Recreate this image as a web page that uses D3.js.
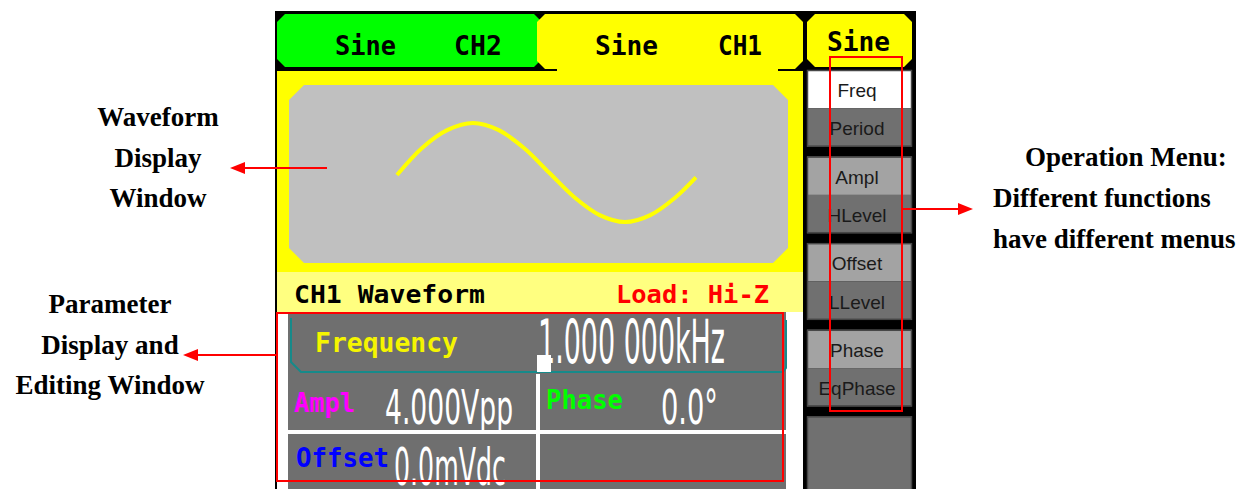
<!DOCTYPE html>
<html>
<head>
<meta charset="utf-8">
<script src="https://cdn.jsdelivr.net/npm/d3@7"></script>
<style>
  body { margin: 0; background: #fff; }
</style>
</head>
<body>
<div id="panel"></div>
<script>
  var width = 1259, height = 489;

  // labels on the generator screen
  var waveName = "Sine";
  var channels = ["CH2", "CH1"];
  var menuTop = ["Freq", "Ampl", "Offset", "Phase", ""];
  var menuBottom = ["Period", "HLevel", "LLevel", "EqPhase", ""];
  var statusLeft = "CH1 Waveform";
  var statusRight = "Load: Hi-Z";
  var paramNames = ["Frequency", "Ampl", "Phase", "Offset"];
  var paramValues = ["1.000 000kHz", "4.000Vpp", "0.0°", "0.0mVdc"];

  // sine trace (phase in degrees, level -1..1)
  var wavePhase = [0, 30, 60, 90, 120, 150, 180, 210, 240, 270, 300, 330, 354];
  var waveLevel = [-0.05, 0.5, 0.86, 1, 0.86, 0.5, 0, -0.5, -0.86, -1, -0.86, -0.5, -0.1];

  // call-out texts
  var noteWave = ["Waveform", "Display", "Window"];
  var noteParam = ["Parameter", "Display and", "Editing Window"];
  var noteMenu = ["Operation Menu:", "Different functions", "have different menus"];

  var mono = "'DejaVu Sans Mono', monospace";
  var serif = "'Liberation Serif', 'Times New Roman', serif";

  var svg = d3.select("#panel")
    .append("svg")
    .attr("width", width)
    .attr("height", height)
    .style("display", "block")
    .style("background-color", "white");

  // polygon with cut corners
  function chamfer(x0, y0, x1, y1, c) {
    return [[x0 + c, y0], [x1 - c, y0], [x1, y0 + c], [x1, y1 - c],
            [x1 - c, y1], [x0 + c, y1], [x0, y1 - c], [x0, y0 + c]].join(" ");
  }

  function label(x, y, txt, size, fill, len, opts) {
    opts = opts || {};
    var t = svg.append("text")
      .attr("x", x)
      .attr("y", y)
      .attr("font-family", opts.family || mono)
      .attr("font-size", size)
      .attr("font-weight", opts.weight || "bold")
      .attr("fill", fill)
      .attr("text-anchor", opts.anchor || "start")
      .text(txt);
    if (len) t.attr("textLength", len).attr("lengthAdjust", "spacingAndGlyphs");
    return t;
  }

  // screen frame
  svg.append("rect").attr("x", 275).attr("y", 11).attr("width", 641).attr("height", 478).attr("fill", "#000");

  // channel tabs
  svg.append("polygon").attr("points", chamfer(277, 14, 542, 67, 8)).attr("fill", "#00ff00");
  svg.append("polygon").attr("points", chamfer(537, 14, 803, 69, 8)).attr("fill", "#ffff00");
  svg.append("rect").attr("x", 557).attr("y", 60).attr("width", 221).attr("height", 14).attr("fill", "#ffff00");
  svg.append("rect").attr("x", 277).attr("y", 71).attr("width", 526).attr("height", 201).attr("fill", "#ffff00");
  svg.append("polygon").attr("points", chamfer(807, 14, 912, 67, 8)).attr("fill", "#ffff00");

  label(335, 55, waveName, 26, "#000", 61);
  label(454, 55, channels[0], 26, "#000", 48);
  label(595, 55, waveName, 26, "#000", 63);
  label(718, 55, channels[1], 26, "#000", 44);
  label(827, 51, waveName, 26, "#000", 63);

  // waveform window
  svg.append("polygon").attr("points", chamfer(289, 85, 788, 263, 15)).attr("fill", "#c0c0c0");

  var xScale = d3.scaleLinear().domain([0, 360]).range([397, 701]);
  var yScale = d3.scaleLinear().domain([-1, 1]).range([222, 123]);
  var wave = d3.line()
    .x(function(d, i) { return xScale(wavePhase[i]); })
    .y(function(d) { return yScale(d); })
    .curve(d3.curveCatmullRom);
  svg.append("path")
    .datum(waveLevel)
    .attr("d", wave)
    .attr("fill", "none")
    .attr("stroke", "#ffff00")
    .attr("stroke-width", 4);

  // status bar
  svg.append("rect").attr("x", 277).attr("y", 272).attr("width", 526).attr("height", 40).attr("fill", "#ffff80");
  label(294, 303, statusLeft, 25, "#000", 191);
  label(616, 303, statusRight, 25, "#ff0000", 153);

  // parameter area
  svg.append("rect").attr("x", 277).attr("y", 312).attr("width", 526).attr("height", 177).attr("fill", "#fff");
  var gray = "#6f6f6f";
  svg.append("rect").attr("x", 288).attr("y", 312).attr("width", 498).attr("height", 62).attr("fill", gray);
  svg.append("rect").attr("x", 288).attr("y", 374).attr("width", 248).attr("height", 56).attr("fill", gray);
  svg.append("rect").attr("x", 540).attr("y", 374).attr("width", 246).attr("height", 56).attr("fill", gray);
  svg.append("rect").attr("x", 288).attr("y", 434).attr("width", 248).attr("height", 60).attr("fill", gray);
  svg.append("rect").attr("x", 540).attr("y", 434).attr("width", 246).attr("height", 60).attr("fill", gray);
  svg.append("path")
    .attr("d", "M291,318 L291,362 L301,372 L783,372 L786,368 L786,320")
    .attr("fill", "none")
    .attr("stroke", "#168a8a")
    .attr("stroke-width", 2);
  svg.append("rect").attr("x", 537).attr("y", 355).attr("width", 14).attr("height", 17).attr("fill", "#fff");

  label(315, 352, paramNames[0], 26, "#f5f500", 143);
  label(294, 412, paramNames[1], 26, "#ff00ff", 61);
  label(546, 409, paramNames[2], 26, "#00ff00", 77);
  label(296, 467, paramNames[3], 26, "#0000ff", 93);

  var big = { family: "'DejaVu Sans', sans-serif", weight: "normal" };
  label(538, 363, paramValues[0], 60, "#fff", 187, big);
  label(385, 424, paramValues[1], 48, "#fff", 128, big);
  label(661, 424, paramValues[2], 48, "#fff", 57, big);
  label(394, 485, paramValues[3], 52, "#fff", 112, big);

  // operation menu
  var yMenu = d3.scaleBand().domain(d3.range(menuTop.length)).range([70, 493]).paddingInner(0.115);
  var half = yMenu.bandwidth() / 2;
  var menu = svg.selectAll(".menu").data(menuTop).enter().append("g").attr("class", "menu");
  menu.append("rect")
    .attr("x", 807).attr("y", function(d, i) { return yMenu(i); })
    .attr("width", 105).attr("height", function(d) { return d == "" ? half * 2 : half; })
    .attr("fill", function(d, i) { return i == 0 ? "#fff" : (d == "" ? "#707070" : "#a3a3a3"); });
  menu.filter(function(d) { return d != ""; }).append("rect")
    .attr("x", 807).attr("y", function(d, i) { return yMenu(i) + half; })
    .attr("width", 105).attr("height", half)
    .attr("fill", "#707070");
  menu.append("rect")
    .attr("x", 807.5).attr("y", function(d, i) { return yMenu(i) + 0.5; })
    .attr("width", 104).attr("height", yMenu.bandwidth() - 1)
    .attr("fill", "none").attr("stroke", "#474747").attr("stroke-width", 1.5);
  menu.append("text")
    .attr("x", 857).attr("y", function(d, i) { return yMenu(i) + half / 2 + 8; })
    .attr("text-anchor", "middle")
    .attr("font-family", "'Liberation Sans', Arial, sans-serif")
    .attr("font-size", 19).attr("fill", "#1a1a1a")
    .text(function(d) { return d; });
  menu.append("text")
    .attr("x", 857).attr("y", function(d, i) { return yMenu(i) + half * 1.5 + 8; })
    .attr("text-anchor", "middle")
    .attr("font-family", "'Liberation Sans', Arial, sans-serif")
    .attr("font-size", 19).attr("fill", "#1a1a1a")
    .text(function(d, i) { return menuBottom[i]; });

  // red call-out boxes and arrows
  var red = "#ff0000";
  svg.append("rect").attr("x", 830).attr("y", 57).attr("width", 72).attr("height", 354)
    .attr("fill", "none").attr("stroke", red).attr("stroke-width", 2);
  svg.append("rect").attr("x", 277).attr("y", 313).attr("width", 506).attr("height", 168)
    .attr("fill", "none").attr("stroke", red).attr("stroke-width", 2);

  function arrow(x0, x1, y, dir) {
    var base = x1 - dir * 15;
    svg.append("line").attr("x1", x0).attr("x2", base).attr("y1", y).attr("y2", y)
      .attr("stroke", red).attr("stroke-width", 2);
    svg.append("polygon")
      .attr("points", [[x1, y], [base, y - 6], [base, y + 6]].join(" "))
      .attr("fill", red);
  }
  arrow(327, 230, 168, -1);
  arrow(277, 183, 355, -1);
  arrow(902, 973, 209, 1);

  // call-out texts
  var noteFont = { family: serif, anchor: "middle" };
  noteWave.forEach(function(t, i) { label(158, 126 + i * 40.5, t, 27, "#000", null, noteFont); });
  noteParam.forEach(function(t, i) { label(110, 313 + i * 40.5, t, 27, "#000", null, noteFont); });
  var noteLeft = [1025, 993, 993];
  noteMenu.forEach(function(t, i) {
    label(noteLeft[i], 166 + i * 41, t, 27, "#000", null, { family: serif });
  });
</script>
</body>
</html>
